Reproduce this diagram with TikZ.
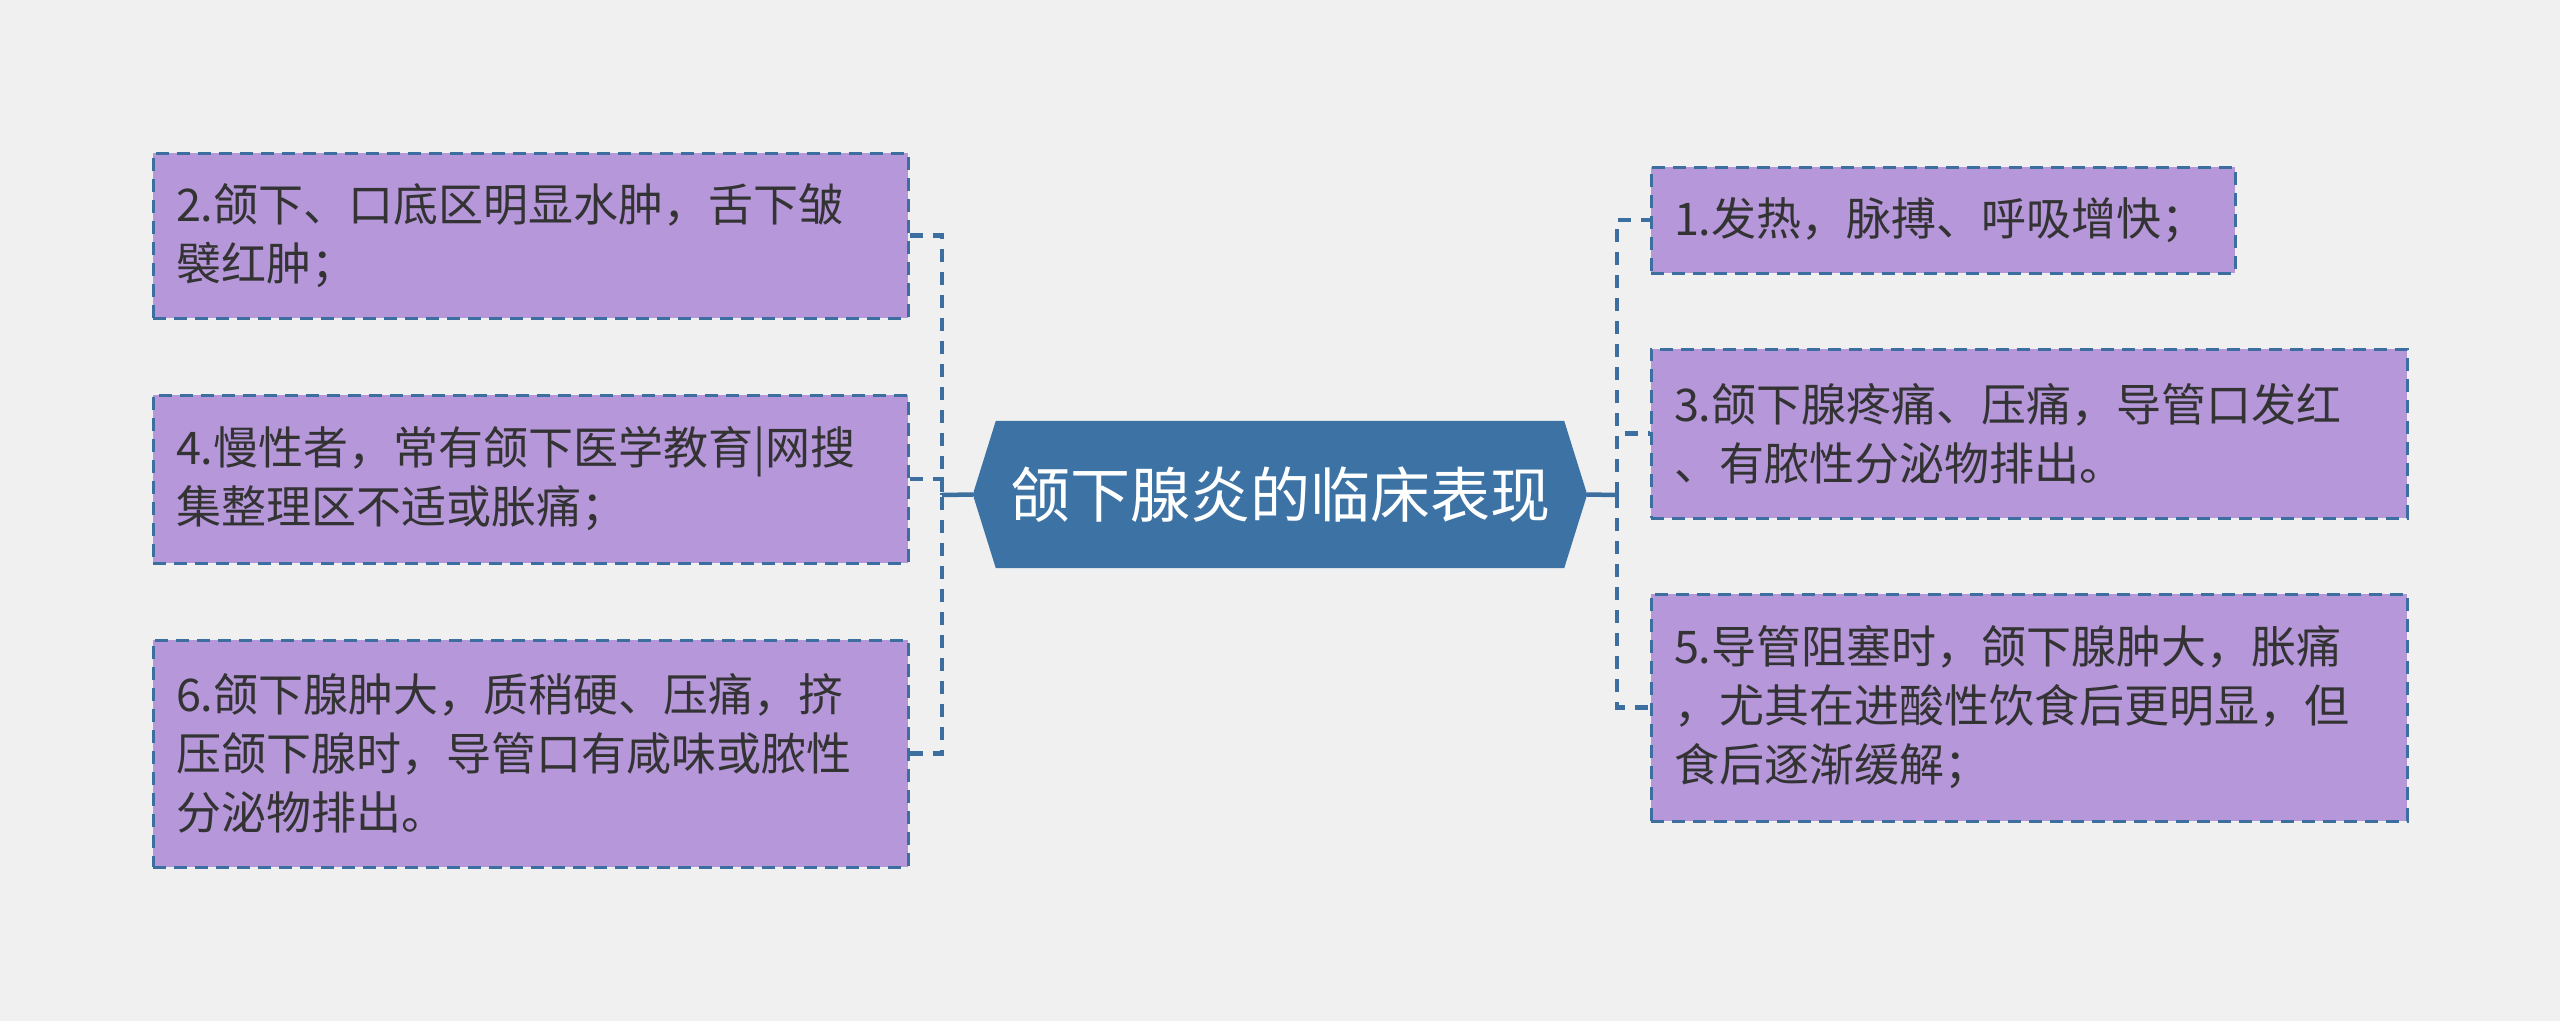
\documentclass[tikz,border=0pt]{standalone}
\usepackage{fontspec}
\setmainfont{Noto Sans CJK SC}
\definecolor{bgc}{HTML}{F0F0F0}
\definecolor{boxc}{HTML}{B597DA}
\definecolor{bordc}{HTML}{3C6E9F}
\definecolor{hubc}{HTML}{3C73A4}
\definecolor{txtc}{HTML}{333333}
\begin{document}
\begin{tikzpicture}[x=1pt,y=-1pt,
  box/.style={draw=bordc, fill=boxc, dash pattern=on 13pt off 8pt, line width=3pt,
    inner xsep=23pt, inner ysep=0pt, align=left, text=txtc,
    font=\fontsize{45}{59}\selectfont},
  link/.style={draw=bordc, line width=4.5pt, dash pattern=on 13pt off 10pt},
  solidlink/.style={draw=bordc, line width=4.5pt},
]
\path[fill=bgc] (0,0) rectangle (2560,1021);
\useasboundingbox (0,0) rectangle (2560,1021);

% left boxes
\node[box, minimum width=755pt, minimum height=165pt, text width=709pt] (b2) at (530.5,235.5)
  {2.颌下、口底区明显水肿，舌下皱\\襞红肿；};
\node[box, minimum width=755pt, minimum height=168pt, text width=709pt] (b4) at (530.5,479)
  {4.慢性者，常有颌下医学教育|网搜\\集整理区不适或胀痛；};
\node[box, minimum width=755pt, minimum height=227pt, text width=709pt] (b6) at (530.5,753.5)
  {6.颌下腺肿大，质稍硬、压痛，挤\\压颌下腺时，导管口有咸味或脓性\\分泌物排出。};

% right boxes
\node[box, minimum width=584pt, minimum height=106pt, text width=538pt] (b1) at (1943,220)
  {1.发热，脉搏、呼吸增快；};
\node[box, minimum width=756pt, minimum height=169pt, text width=710pt] (b3) at (2029,433.5)
  {3.颌下腺疼痛、压痛，导管口发红\\、有脓性分泌物排出。};
\node[box, minimum width=756pt, minimum height=227pt, text width=710pt] (b5) at (2029,707.5)
  {5.导管阻塞时，颌下腺肿大，胀痛\\，尤其在进酸性饮食后更明显，但\\食后逐渐缓解；};

% hub
\node[minimum width=614pt, minimum height=147pt, inner sep=0pt] (hub) at (1280,494.5) {};
\fill[hubc] ([xshift=23pt]hub.north west) -- ([xshift=-23pt]hub.north east) -- (hub.east)
  -- ([xshift=-23pt]hub.south east) -- ([xshift=23pt]hub.south west) -- (hub.west) -- cycle;
\node[text=white, font=\fontsize{60}{72}\selectfont, inner sep=0pt] (hubtext) at (hub) {颌下腺炎的临床表现};

% connectors
\coordinate (lbus) at (942,495);
\coordinate (rbus) at (1617,495);
\draw[solidlink] (hub.west) -- (lbus);
\draw[solidlink] (hub.east) -- (rbus);
\draw[link] (b2.east) -| (lbus);
\draw[link] (b4.east) -| (lbus);
\draw[link] (b6.east) -| (lbus);
\draw[link] (rbus) |- (b1.west);
\draw[link] (rbus) |- (b3.west);
\draw[link] (rbus) |- (b5.west);
\end{tikzpicture}
\end{document}
